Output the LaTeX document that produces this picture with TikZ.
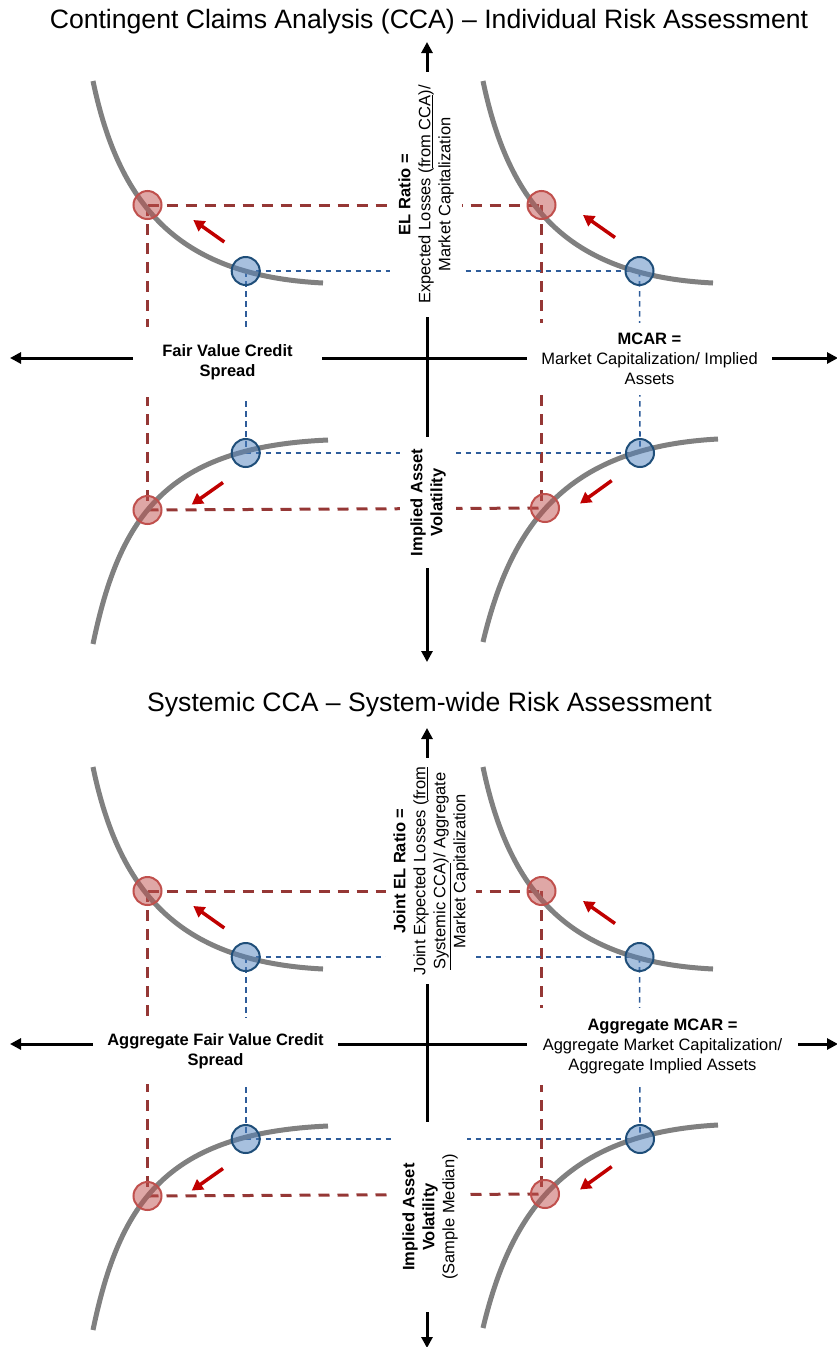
\documentclass[tikz,border=0pt]{standalone}
\usepackage{fontspec}
\setmainfont{Liberation Sans}
\usetikzlibrary{arrows.meta}
\pgfdeclarelayer{bg}
\pgfsetlayers{bg,main}
\definecolor{curvegray}{HTML}{808080}
\definecolor{reddash}{HTML}{953735}
\definecolor{bluedash}{HTML}{2E5C9A}
\definecolor{redfill}{HTML}{C0504D}
\definecolor{bluefill}{HTML}{4F81BD}
\definecolor{blueedge}{HTML}{1F4E79}
\definecolor{arrowred}{HTML}{C00000}
\tikzset{
 axisline/.style={line width=3pt, -{Triangle[width=11pt,length=11pt]}},
 curveline/.style={curvegray, line width=5pt},
 rdash/.style={reddash, line width=3pt, dash pattern=on 11pt off 8pt},
 bdash/.style={bluedash, line width=1.6pt, dash pattern=on 5.5pt off 4.5pt},
 rdot/.style={circle, draw=redfill, line width=2pt, fill=redfill, fill opacity=0.5, minimum size=28pt, inner sep=0pt},
 bdot/.style={circle, draw=blueedge, line width=2pt, fill=bluefill, fill opacity=0.5, minimum size=28pt, inner sep=0pt},
 movearrow/.style={arrowred, line width=3.5pt, -{Triangle[width=12pt,length=11pt]}},
 lbl/.style={fill=white, font=\fontsize{16.5}{20}\selectfont, align=center, inner sep=0pt},
 ttl/.style={font=\fontsize{26.6}{30}\selectfont, inner sep=0pt},
}
\newcommand\ccapanel[2]{%
\begin{scope}[yshift=#2]
 \coordinate (#1R1) at (147.5,205);
 \coordinate (#1R2) at (541.5,205);
 \coordinate (#1R3) at (147.5,510);
 \coordinate (#1R4) at (545,508);
 \coordinate (#1B1) at (245.7,271);
 \coordinate (#1B2) at (639.5,271);
 \coordinate (#1B3) at (245.7,453);
 \coordinate (#1B4) at (640,453);
 \coordinate (#1O) at (427,358);
 \coordinate (#1N) at (427,42);
 \coordinate (#1S) at (427,662);
 \coordinate (#1W) at (10,358);
 \coordinate (#1E) at (838,358);
 \coordinate (#1a1s) at (224.3,242);   \coordinate (#1a1e) at (193.3,220);
 \coordinate (#1a2s) at (223,482.5);   \coordinate (#1a2e) at (191.7,504.6);
 \coordinate (#1a3s) at (615,237.5);   \coordinate (#1a3e) at (583,215);
 \coordinate (#1a4s) at (611.7,480.6); \coordinate (#1a4e) at (580,503.5);
 \begin{pgfonlayer}{bg}
  \draw[axisline] (#1O) -- (#1N);
  \draw[axisline] (#1O) -- (#1S);
  \draw[axisline] (#1O) -- (#1W);
  \draw[axisline] (#1O) -- (#1E);
  \draw[rdash] (#1R1) -- (#1R2);
  \draw[rdash] (#1R1) -- (#1R3);
  \draw[rdash] (#1R3) -- (#1R4);
  \draw[rdash] (#1R2) -- (#1R2 |- #1R4);
  \draw[bdash] (#1B1) -- (#1B2);
  \draw[bdash] (#1B1) -- (#1B3);
  \draw[bdash] (#1B3) -- (#1B4);
  \draw[bdash] (#1B2) -- (#1B4);
 \end{pgfonlayer}
 \draw[curveline] (93,81) .. controls (120,211) and (183,276) .. (323,283);
 \draw[curveline] (93,644) .. controls (120,514) and (168,447) .. (328,440);
 \draw[curveline] (483,81) .. controls (510,211) and (573,276) .. (713,283);
 \draw[curveline] (483,642) .. controls (512,520) and (570,447) .. (718,439);
 \node[rdot] (#1r1) at (#1R1) {};
 \node[rdot] (#1r2) at (#1R2) {};
 \node[rdot] (#1r3) at (#1R3) {};
 \node[rdot] (#1r4) at (#1R4) {};
 \node[bdot] (#1b1) at (#1B1) {};
 \node[bdot] (#1b2) at (#1B2) {};
 \node[bdot] (#1b3) at (#1B3) {};
 \node[bdot] (#1b4) at (#1B4) {};
 \draw[movearrow] (#1a1s) -- (#1a1e);
 \draw[movearrow] (#1a2s) -- (#1a2e);
 \draw[movearrow] (#1a3s) -- (#1a3e);
 \draw[movearrow] (#1a4s) -- (#1a4e);
\end{scope}}
\begin{document}
\begin{tikzpicture}[x=1pt,y=-1pt]
\useasboundingbox (0,0) rectangle (836,1347);
\ccapanel{t}{0pt}
\ccapanel{u}{-686pt}
% top panel labels
\node[ttl] (title1) at (429,22) {Contingent Claims Analysis (CCA) – Individual Risk Assessment};
\node[lbl, rotate=90, minimum width=245pt, minimum height=72pt] (elr) at (426,194.5)
 {\textbf{EL Ratio =}\\Expected Losses (\underline{from CCA})/\\Market Capitalization};
\node[lbl, rotate=90, minimum width=131pt, minimum height=56pt] (iav) at (428,502.5)
 {\textbf{Implied Asset}\\\textbf{Volatility}};
\node[lbl, minimum width=189pt, minimum height=70pt] (fvcs) at (227.5,362)
 {\textbf{Fair Value Credit}\\\textbf{Spread}};
\node[lbl, minimum width=245pt, minimum height=72pt] (mcar) at (649.5,359)
 {\textbf{MCAR =}\\Market Capitalization/ Implied\\Assets};
% bottom panel labels
\node[ttl] (title2) at (429.5,705) {Systemic CCA – System-wide Risk Assessment};
\node[lbl, rotate=90, minimum width=226pt, minimum height=90pt] (jelr) at (431,871)
 {\textbf{Joint EL Ratio =}\\Joint Expected Losses (\underline{from}\\\underline{Systemic CCA})/ Aggregate\\Market Capitalization};
\node[lbl, rotate=90, minimum width=190pt, minimum height=73pt] (iavm) at (430,1217)
 {\textbf{Implied Asset}\\\textbf{Volatility}\\(Sample Median)};
\node[lbl, minimum width=245pt, minimum height=66pt] (afvcs) at (215.5,1051)
 {\textbf{Aggregate Fair Value Credit}\\\textbf{Spread}};
\node[lbl, minimum width=271pt, minimum height=77pt] (amcar) at (662.5,1046.5)
 {\textbf{Aggregate MCAR =}\\Aggregate Market Capitalization/\\Aggregate Implied Assets};
\end{tikzpicture}
\end{document}
